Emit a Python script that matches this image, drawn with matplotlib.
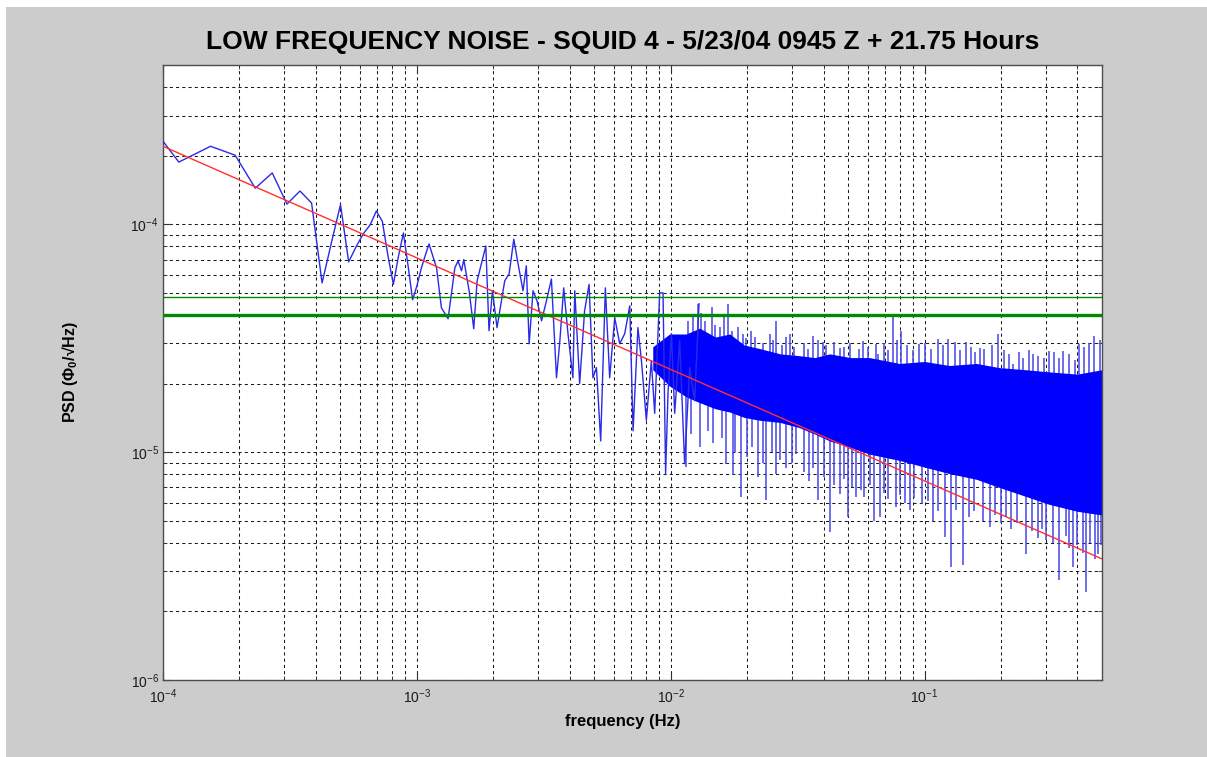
import matplotlib
matplotlib.use("Agg")
import matplotlib.pyplot as plt
import matplotlib.ticker as mtick
from matplotlib.patches import Rectangle
import numpy as np

plt.rcParams["font.family"] = ["Liberation Sans", "DejaVu Sans"]
plt.rcParams["mathtext.fontset"] = "custom"
plt.rcParams["mathtext.rm"] = "Liberation Sans"
plt.rcParams["mathtext.it"] = "Liberation Sans:italic"
plt.rcParams["mathtext.bf"] = "Liberation Sans:bold"

TITLE = "LOW FREQUENCY NOISE - SQUID 4 - 5/23/04 0945 Z + 21.75 Hours"
XLABEL = "frequency (Hz)"
YLABEL = "PSD (Φ$_\\mathbf{0}$/√Hz)"

# sparse low-frequency part of the spectrum (Hz, PSD)
freq_lo = [
    7.70e-5, 1.155e-4, 1.540e-4, 1.925e-4, 2.310e-4, 2.695e-4, 3.080e-4,
    3.465e-4, 3.850e-4, 4.235e-4, 4.620e-4, 5.005e-4, 5.390e-4, 5.775e-4,
    6.160e-4, 6.545e-4, 6.930e-4, 7.315e-4, 7.700e-4, 8.085e-4, 8.470e-4,
    8.855e-4, 9.240e-4, 9.625e-4, 1.001e-3, 1.040e-3, 1.078e-3, 1.117e-3,
    1.196e-3, 1.25e-3, 1.328e-3, 1.412e-3, 1.454e-3, 1.50e-3, 1.531e-3,
    1.607e-3, 1.676e-3, 1.728e-3, 1.87e-3, 1.925e-3, 1.986e-3, 2.07e-3,
    2.22e-3, 2.31e-3, 2.41e-3, 2.506e-3, 2.62e-3, 2.70e-3, 2.77e-3, 2.87e-3,
    2.976e-3, 3.10e-3, 3.24e-3, 3.39e-3, 3.55e-3, 3.66e-3, 3.79e-3, 3.94e-3,
    4.12e-3, 4.19e-3, 4.38e-3, 4.58e-3, 4.77e-3, 4.94e-3, 5.10e-3, 5.30e-3,
    5.53e-3, 5.75e-3, 6.02e-3, 6.30e-3, 6.59e-3, 6.90e-3, 7.11e-3, 7.43e-3,
    7.67e-3, 8.02e-3, 8.39e-3, 8.65e-3, 9.05e-3, 9.33e-3, 9.55e-3, 9.76e-3,
    1.007e-2, 1.037e-2, 1.085e-2, 1.135e-2, 1.188e-2, 1.243e-2, 1.293e-2,
]
psd_lo = [
    3.4e-4, 1.875e-4, 2.20e-4, 2.01e-4, 1.44e-4, 1.68e-4, 1.227e-4,
    1.40e-4, 1.24e-4, 5.53e-5, 8.4e-5, 1.22e-4, 6.84e-5, 8.0e-5,
    9.1e-5, 9.93e-5, 1.144e-4, 1.03e-4, 7.26e-5, 5.45e-5, 7.26e-5,
    9.16e-5, 6.57e-5, 4.66e-5, 5.37e-5, 6.37e-5, 7.26e-5, 8.2e-5,
    6.44e-5, 4.30e-5, 3.85e-5, 6.44e-5, 6.91e-5, 6.25e-5, 7.0e-5,
    5.11e-5, 3.48e-5, 5.65e-5, 8.03e-5, 3.41e-5, 5.11e-5, 3.52e-5,
    5.65e-5, 6.06e-5, 8.6e-5, 6.70e-5, 5.11e-5, 6.57e-5, 2.99e-5, 5.11e-5,
    4.61e-5, 3.77e-5, 4.61e-5, 5.75e-5, 2.12e-5, 3.08e-5, 5.26e-5, 3.31e-5,
    2.12e-5, 5.11e-5, 2.0e-5, 4.17e-5, 5.45e-5, 2.12e-5, 2.35e-5, 1.12e-5,
    5.26e-5, 2.12e-5, 3.89e-5, 2.99e-5, 3.31e-5, 4.39e-5, 1.24e-5, 3.52e-5,
    2.52e-5, 1.38e-5, 2.52e-5, 1.48e-5, 5.0e-5, 5.0e-5, 8.05e-6, 1.81e-5,
    3.31e-5, 1.48e-5, 3.08e-5, 8.9e-6, 2.35e-5, 1.68e-5, 4.48e-5,
]

# dense high-frequency part: solid core of the trace
band_freq = [8.5e-3, 9.9e-3, 1.15e-2, 1.30e-2, 1.50e-2, 1.71e-2, 1.95e-2,
             2.24e-2, 2.7e-2, 3.22e-2, 3.7e-2, 4.23e-2, 5.1e-2, 6.07e-2, 7.97e-2,
             0.1, 0.1254, 0.16, 0.197, 0.25, 0.310, 0.4, 0.5]
band_top = [2.9e-5, 3.3e-5, 3.3e-5, 3.5e-5, 3.2e-5, 3.3e-5, 2.95e-5,
            2.85e-5, 2.7e-5, 2.65e-5, 2.6e-5, 2.7e-5, 2.6e-5, 2.6e-5, 2.45e-5,
            2.5e-5, 2.4e-5, 2.45e-5, 2.35e-5, 2.3e-5, 2.25e-5, 2.2e-5, 2.3e-5]
band_bot = [2.3e-5, 1.95e-5, 1.75e-5, 1.65e-5, 1.55e-5, 1.5e-5, 1.42e-5,
            1.38e-5, 1.35e-5, 1.28e-5, 1.2e-5, 1.12e-5, 1.05e-5, 9.8e-6, 9.2e-6,
            8.6e-6, 8.05e-6, 7.6e-6, 7.0e-6, 6.4e-6, 5.9e-6, 5.5e-6, 5.3e-6]

# single excursions sticking out of the core
spike_up_freq = [1.17e-2, 1.285e-2, 1.36e-2, 1.455e-2, 1.56e-2, 1.68e-2,
                 1.84e-2, 1.986e-2, 2.078e-2, 2.454e-2, 2.61e-2, 2.94e-2,
                 3.63e-2, 3.98e-2, 4.63e-2, 5.71e-2, 6.45e-2, 6.55e-2,
                 7.50e-2, 8.09e-2, 9.55e-2, 0.1128, 0.1235, 0.1459, 0.1647,
                 0.1944, 0.2226, 0.2670, 0.3105, 0.3503, 0.4074, 0.4667,
                 1.22e-2, 1.32e-2, 1.50e-2, 1.62e-2, 1.75e-2, 1.92e-2, 2.15e-2,
                 2.30e-2, 2.52e-2, 2.75e-2, 2.85e-2, 3.05e-2, 3.35e-2, 3.48e-2,
                 3.80e-2, 4.10e-2, 4.40e-2, 4.80e-2, 5.10e-2, 5.50e-2, 6.0e-2,
                 6.9e-2, 7.2e-2, 7.8e-2, 8.5e-2, 9.0e-2, 0.100, 0.106, 0.118,
                 0.132, 0.138, 0.152, 0.158, 0.172, 0.185, 0.205, 0.215, 0.235,
                 0.245, 0.258, 0.28, 0.295, 0.325, 0.34, 0.37, 0.39, 0.425,
                 0.445, 0.49]
spike_up = [3.77e-5, 4.46e-5, 3.77e-5, 4.35e-5, 3.53e-5, 4.46e-5,
            3.53e-5, 3.18e-5, 3.41e-5, 3.31e-5, 3.77e-5, 3.31e-5,
            3.24e-5, 3.03e-5, 2.87e-5, 3.08e-5, 2.98e-5, 2.70e-5,
            3.90e-5, 3.41e-5, 2.98e-5, 3.14e-5, 3.14e-5, 3.03e-5, 2.87e-5,
            3.31e-5, 2.44e-5, 2.70e-5, 2.79e-5, 2.79e-5, 2.98e-5, 3.24e-5,
            3.9e-5, 4.1e-5, 3.6e-5, 3.9e-5, 3.4e-5, 3.3e-5, 3.2e-5,
            3.0e-5, 3.1e-5, 2.95e-5, 3.2e-5, 2.9e-5, 3.0e-5, 2.85e-5,
            3.1e-5, 2.95e-5, 3.05e-5, 2.9e-5, 3.0e-5, 2.85e-5, 2.9e-5,
            3.0e-5, 2.8e-5, 3.1e-5, 2.95e-5, 2.8e-5, 3.0e-5, 2.85e-5, 2.95e-5,
            3.05e-5, 2.8e-5, 2.9e-5, 2.75e-5, 2.85e-5, 2.95e-5, 2.8e-5, 2.7e-5,
            2.75e-5, 2.6e-5, 2.8e-5, 2.65e-5, 2.6e-5, 2.75e-5, 2.6e-5, 2.7e-5,
            2.55e-5, 2.9e-5, 3.0e-5, 3.1e-5]
spike_dn_freq = [1.153e-2, 1.40e-2, 1.656e-2, 1.758e-2, 1.897e-2, 2.207e-2,
                 2.382e-2, 2.61e-2, 3.126e-2, 3.80e-2, 4.23e-2, 4.63e-2,
                 4.99e-2, 5.38e-2, 5.80e-2, 6.35e-2, 6.65e-2, 7.74e-2,
                 8.73e-2, 0.1078, 0.1199, 0.1274, 0.1416, 0.1803, 0.2098,
                 0.2515, 0.3013, 0.338, 0.3836, 0.4330, 0.481,
                 1.20e-2, 1.30e-2, 1.47e-2, 1.60e-2, 1.80e-2, 2.00e-2, 2.10e-2,
                 2.30e-2, 2.50e-2, 2.70e-2, 2.85e-2, 3.00e-2, 3.35e-2, 3.50e-2,
                 3.65e-2, 4.00e-2, 4.40e-2, 4.80e-2, 5.2e-2, 5.6e-2, 6.1e-2,
                 6.9e-2, 7.2e-2, 8.0e-2, 8.4e-2, 9.1e-2, 9.8e-2, 0.103, 0.113,
                 0.133, 0.150, 0.156, 0.170, 0.190, 0.200, 0.220, 0.232, 0.265,
                 0.28, 0.29, 0.32, 0.36, 0.37, 0.40, 0.42, 0.45, 0.47, 0.495]
spike_dn = [8.59e-6, 1.24e-5, 8.9e-6, 7.9e-6, 6.34e-6, 7.76e-6,
            6.14e-6, 8.05e-6, 9.83e-6, 6.14e-6, 4.46e-6, 6.57e-6,
            5.19e-6, 6.34e-6, 6.34e-6, 5.01e-6, 5.19e-6, 5.74e-6,
            5.55e-6, 5.01e-6, 4.24e-6, 3.13e-6, 3.19e-6, 4.69e-6, 5.19e-6,
            3.58e-6, 4.10e-6, 2.74e-6, 3.13e-6, 2.43e-6, 3.58e-6,
            1.2e-5, 1.05e-5, 1.1e-5, 1.15e-5, 1.0e-5, 9.5e-6, 1.05e-5,
            9.0e-6, 1.0e-5, 9.2e-6, 8.5e-6, 9.0e-6, 8.2e-6, 7.5e-6,
            8.5e-6, 7.8e-6, 7.2e-6, 7.6e-6, 7.0e-6, 6.8e-6, 7.2e-6,
            6.6e-6, 6.2e-6, 6.5e-6, 6.0e-6, 6.3e-6, 5.9e-6, 6.1e-6, 5.5e-6,
            5.6e-6, 5.2e-6, 5.5e-6, 5.0e-6, 5.3e-6, 4.9e-6, 4.6e-6, 4.9e-6, 4.5e-6,
            4.2e-6, 4.6e-6, 4.0e-6, 4.3e-6, 3.8e-6, 3.9e-6, 3.6e-6, 4.0e-6, 3.4e-6, 3.9e-6]

# power law fit and reference levels
fit_freq = [1e-4, 0.5]
fit_psd = [2.2e-4, 3.4e-6]
ref_levels = [4.0e-5, 4.8e-5]
ref_widths = [2.4, 1.0]

BLUE = "#0000ff"
SPIKE = "#4646e8"
BG = "#cccccc"

fig = plt.figure(figsize=(12.07, 7.57), dpi=100, facecolor="white")
fig.add_artist(Rectangle((6 / 1207, 0), 1, 1 - 7 / 757, transform=fig.transFigure,
                         facecolor=BG, edgecolor="none", zorder=-1))
ax = fig.add_axes([0.135, 0.1017, 0.778, 0.8124])
ax.set_facecolor("white")
ax.set_xscale("log")
ax.set_yscale("log")

# spikes drawn from the middle of the core, then the core on top
logmid = (np.log10(band_top) + np.log10(band_bot)) / 2
base_up = 10 ** np.interp(np.log10(spike_up_freq), np.log10(band_freq), logmid)
base_dn = 10 ** np.interp(np.log10(spike_dn_freq), np.log10(band_freq), logmid)
ax.vlines(spike_up_freq, base_up, spike_up, color=SPIKE, lw=1.1, zorder=2)
ax.vlines(spike_dn_freq, spike_dn, base_dn, color=SPIKE, lw=1.1, zorder=2)
ax.fill_between(band_freq, band_bot, band_top, color=BLUE, lw=0, zorder=2.5)

ax.plot(freq_lo, psd_lo, color="#2a2ae8", lw=1.0, zorder=3)
ax.plot(fit_freq, fit_psd, color="#ff3030", lw=1.0, zorder=4)
for lev, w in zip(ref_levels, ref_widths):
    ax.axhline(lev, color="#008a00", lw=w, zorder=5)

ax.set_xlim(1e-4, 0.5)
ax.set_ylim(1e-6, 5e-4)
for axis in (ax.xaxis, ax.yaxis):
    axis.set_major_locator(mtick.LogLocator(base=10, numticks=12))
    axis.set_minor_locator(mtick.LogLocator(base=10, subs=np.arange(2, 10), numticks=12))
    axis.set_minor_formatter(mtick.NullFormatter())

ax.grid(True, which="both", ls=(0, (3, 3)), lw=0.75, color="0.1", zorder=1)
ax.set_axisbelow(True)
ax.tick_params(which="both", direction="in", top=True, right=True, colors="0.2",
               labelcolor="0.1")
ax.tick_params(which="major", length=6, labelsize=10)
ax.tick_params(which="minor", length=3)
ax.tick_params(axis="x", pad=5)
ax.tick_params(axis="y", pad=3)
for sp in ax.spines.values():
    sp.set_color("0.3")
    sp.set_linewidth(1.0)

ax.set_xlabel(XLABEL, fontsize=12, fontweight="bold")
ax.set_ylabel(YLABEL, fontsize=11.5, fontweight="bold")
ax.xaxis.set_label_coords(0.49, -0.055)
ax.yaxis.set_label_coords(-0.088, 0.5)
fig.text(0.516, 0.944, TITLE, ha="center", va="center", fontsize=19,
         fontweight="bold", color="black")

fig.savefig("out.png", dpi=100, facecolor=fig.get_facecolor())
